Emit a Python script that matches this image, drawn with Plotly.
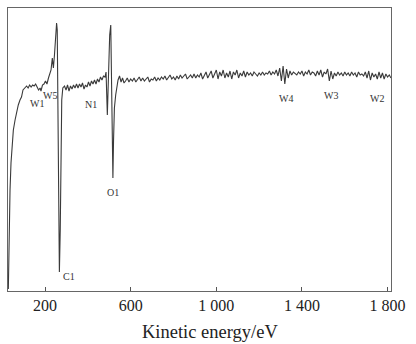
import numpy as np
import plotly.graph_objects as go

# Auger spectrum, derivative mode (arbitrary units)
# Low-energy part, sampled unevenly around the sharp features
energy_low = [28.6, 30, 32, 36.5, 41, 47, 52, 60, 67, 75, 83, 90, 97, 107,
              114, 121, 128, 135, 142, 149, 156, 163, 170, 177, 181, 188, 195,
              202, 209, 216, 223, 228, 234, 239, 244, 249, 254, 257, 260, 264,
              267, 271, 275, 278, 283, 291, 298, 305, 312, 319, 326, 333, 340,
              347, 354, 361, 368, 375, 382, 389, 396, 403, 410, 417, 424, 431,
              438, 445, 452, 459, 466, 473, 480, 485, 491, 497, 502, 507, 511,
              514, 517, 520, 524, 530, 534, 541, 548, 555, 562, 569]
signal_low = [2, 31, 61, 101, 128, 151, 161, 171, 179, 186, 191, 194, 201, 204,
              205, 203, 206, 204, 206, 205, 207, 204, 201, 203, 200, 206, 207,
              210, 207, 213, 217, 221, 233, 223, 236, 251, 268, 261, 171, 71,
              19, 61, 141, 191, 203, 205, 201, 206, 200, 205, 202, 206, 203,
              207, 203, 207, 204, 208, 202, 206, 204, 209, 205, 210, 207, 211,
              207, 212, 209, 214, 211, 215, 214, 219, 176, 221, 256, 266, 211,
              141, 113, 151, 183, 196, 203, 211, 215, 209, 213, 208]

# High-energy part on an even 8 eV grid
hi_start, hi_step = 576, 8
signal_high = [
    210, 213, 209, 212, 210, 213, 209, 211, 214, 210,
    213, 210, 212, 214, 209, 212, 211, 214, 210, 213,
    211, 214, 212, 215, 211, 213, 216, 212, 214, 211,
    215, 212, 216, 213, 215, 217, 212, 214, 216, 213,
    217, 213, 216, 214, 218, 212, 216, 219, 213, 217,
    220, 213, 218, 221, 212, 219, 215, 221, 213, 218,
    214, 220, 212, 219, 216, 221, 213, 218, 215, 220,
    214, 219, 216, 218, 215, 219, 217, 215, 218, 216,
    219, 216, 218, 217, 220, 216, 219, 217, 221, 215,
    223, 210, 225, 207, 222, 213, 220, 216, 219, 217,
    216, 219, 217, 220, 215, 219, 217, 221, 216, 219,
    218, 215, 220, 216, 221, 214, 219, 217, 222, 210,
    220, 212, 218, 215, 219, 216, 218, 215, 219, 216,
    218, 215, 219, 216, 218, 214, 219, 216, 217, 215,
    219, 213, 220, 211, 218, 214, 217, 212, 219, 213,
    218, 212, 217, 214, 216, 213,
]
energy_high = hi_start + hi_step * np.arange(len(signal_high))

energy = list(energy_low) + list(energy_high)
signal = list(signal_low) + list(signal_high)

# Peak labels
peak_names = ["W1", "W5", "C1", "N1", "O1", "W4", "W3", "W2"]
peak_x = [163, 223, 312, 415, 518, 1326, 1536, 1751]
peak_y = [188, 196, 15, 187, 99, 193, 196, 193]

tick_vals = [200, 600, 1000, 1400, 1800]
tick_text = ["200", "600", "1 000", "1 400", "1 800"]

serif = "Liberation Serif, Times New Roman, serif"

fig = go.Figure()
fig.add_trace(go.Scatter(x=energy, y=signal, mode="lines",
                         line=dict(color="#3a3a3a", width=1.1),
                         hoverinfo="skip", showlegend=False))

for name, px_, py_ in zip(peak_names, peak_x, peak_y):
    fig.add_annotation(x=px_, y=py_, text=name, showarrow=False,
                       font=dict(family=serif, size=10, color="#333"))

fig.add_annotation(x=0.527, y=-0.145, xref="paper", yref="paper",
                   xanchor="center", yanchor="middle",
                   text="Kinetic energy/eV", showarrow=False,
                   font=dict(family=serif, size=18.5, color="#222"))

fig.update_layout(
    width=416, height=344,
    margin=dict(l=8, r=25, t=8, b=53),
    paper_bgcolor="white", plot_bgcolor="white",
    xaxis=dict(range=[27, 1816], tickvals=tick_vals, ticktext=tick_text,
               ticks="inside", ticklen=4, tickcolor="#555", tickwidth=1,
               showline=True, linecolor="#666", linewidth=1.3, mirror=True,
               showgrid=False, zeroline=False,
               tickfont=dict(family=serif, size=16, color="#222")),
    yaxis=dict(range=[0, 283], showticklabels=False, ticks="",
               showline=True, linecolor="#666", linewidth=1.3, mirror=True,
               showgrid=False, zeroline=False),
)

fig.write_html("out.html")
